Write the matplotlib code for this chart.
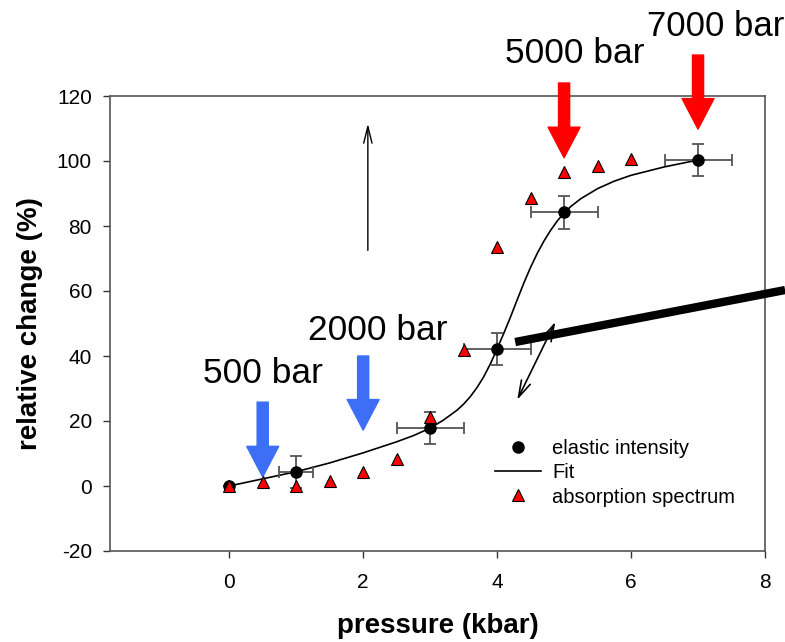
import matplotlib
matplotlib.use("Agg")
import matplotlib.pyplot as plt
from matplotlib.lines import Line2D

plt.rcParams['font.family'] = ['Liberation Sans', 'DejaVu Sans']
plt.rcParams['axes.unicode_minus'] = False

# elastic intensity (with error bars)
el_x = [0, 1, 3, 4, 5, 7]
el_y = [0, 4.3, 17.8, 42.2, 84.2, 100.3]
el_xerr = [0, 0.25, 0.5, 0.5, 0.5, 0.5]
el_yerr = [0, 5, 5, 5, 5, 5]

# absorption spectrum
ab_x = [0, 0.5, 1, 1.5, 2, 2.5, 3, 3.5, 4, 4.5, 5, 5.5, 6]
ab_y = [0, 1.3, 0, 1.6, 4.2, 8.2, 21.2, 42, 73.4, 88.5, 96.5, 98.5, 100.5]

# fit curve
fit_x = [0, 0.5, 1, 1.5, 2, 2.5, 2.75, 3, 3.2, 3.4, 3.5, 3.6, 3.7, 3.8, 3.9, 4.0,
         4.1, 4.2, 4.3, 4.4, 4.5, 4.6, 4.7, 4.8, 4.9, 5.0, 5.1, 5.25, 5.5, 5.75, 6, 6.5, 7]
fit_y = [0, 2.2, 4.4, 7.1, 10.2, 13.6, 15.5, 17.8, 20.3, 23.3, 25.2, 27.5, 30.3, 33.6, 37.6, 42.2,
         47.0, 52.0, 57.3, 62.5, 67.3, 71.6, 75.4, 78.7, 81.6, 84.0, 86.0, 88.4, 91.5, 93.8, 95.6, 98.2, 100.3]

# pressure markers
blue_labels = ["500 bar", "2000 bar"]
blue_x = [0.5, 2]
blue_tail = [25.8, 40]
blue_tip = [2.8, 17.2]
red_labels = ["5000 bar", "7000 bar"]
red_x = [5, 7]
red_tail = [124, 132.6]
red_tip = [101, 109.8]

fig = plt.figure(figsize=(7.85, 6.42), dpi=100)
ax = fig.add_axes([110/785, 91/642, 655/785, 455/642])

ax.plot(fit_x, fit_y, color='black', lw=1.2, zorder=3)
ax.errorbar(el_x, el_y, xerr=el_xerr, yerr=el_yerr, fmt='o', color='black',
            ecolor='#555555', elinewidth=1.3, capsize=4, capthick=1.3, ms=8, zorder=4)
ax.plot(ab_x, ab_y, '^', color='red', mec='black', mew=0.8, ms=9, ls='none', zorder=5)

arrow_style = "simple,head_length=22,head_width=23,tail_width=8"
for x, t0, t1 in zip(blue_x, blue_tail, blue_tip):
    ax.annotate("", xy=(x, t1), xytext=(x, t0), annotation_clip=False,
                arrowprops=dict(arrowstyle=arrow_style, mutation_scale=1,
                                color='#3d6ef5', shrinkA=0, shrinkB=0))
ax.text(0.5, 34.5, blue_labels[0], fontsize=25.5, ha='center', va='center')
ax.text(2.22, 48, blue_labels[1], fontsize=25.5, ha='center', va='center')

for x, t0, t1 in zip(red_x, red_tail, red_tip):
    ax.annotate("", xy=(x, t1), xytext=(x, t0), annotation_clip=False,
                arrowprops=dict(arrowstyle=arrow_style, mutation_scale=1,
                                color='red', shrinkA=0, shrinkB=0), zorder=6)
ax.text(5.16, 133, red_labels[0], fontsize=25.5, ha='center', va='center', clip_on=False)
ax.text(7.27, 141.5, red_labels[1], fontsize=25, ha='center', va='center', clip_on=False)

# thin arrows and the thick bar
ax.annotate("", xy=(2.07, 111.5), xytext=(2.07, 72.5),
            arrowprops=dict(arrowstyle="->,head_length=1.2,head_width=0.3", lw=1, color='black',
                            shrinkA=0, shrinkB=0))
ax.annotate("", xy=(4.3, 26.5), xytext=(4.87, 50.5),
            arrowprops=dict(arrowstyle="<->,head_length=1.2,head_width=0.35", lw=1.2, color='black',
                            shrinkA=0, shrinkB=0))
ax.plot([4.27, 8.3], [44.3, 60.3], color='black', lw=6, solid_capstyle='butt', clip_on=False, zorder=6)

ax.set_xlim(-1.78, 8)
ax.set_ylim(-20, 120)
ax.set_xticks([0, 2, 4, 6, 8])
ax.set_yticks(range(-20, 121, 20))
ax.tick_params(direction='out', length=5, width=1, colors='#333333', labelcolor='black',
               labelsize=15, pad=8)
ax.tick_params(axis='x', pad=11)
for s in ax.spines.values():
    s.set_color('#555555')
    s.set_linewidth(1.2)

ax.set_xlabel("pressure (kbar)", fontsize=20, fontweight='bold', labelpad=15)
ax.set_ylabel("relative change (%)", fontsize=20, fontweight='bold', labelpad=10)

handles = [Line2D([], [], marker='o', color='black', ls='none', ms=8),
           Line2D([], [], color='black', lw=1.2),
           Line2D([], [], marker='^', color='red', mec='black', mew=0.8, ls='none', ms=9)]
ax.legend(handles, ["elastic intensity", "Fit", "absorption spectrum"], frameon=False,
          loc='upper left', bbox_to_anchor=(0.56, 0.285), fontsize=14.5, handlelength=2.3,
          handletextpad=0.55, labelspacing=0.25)

fig.savefig("out.png", dpi=100)
